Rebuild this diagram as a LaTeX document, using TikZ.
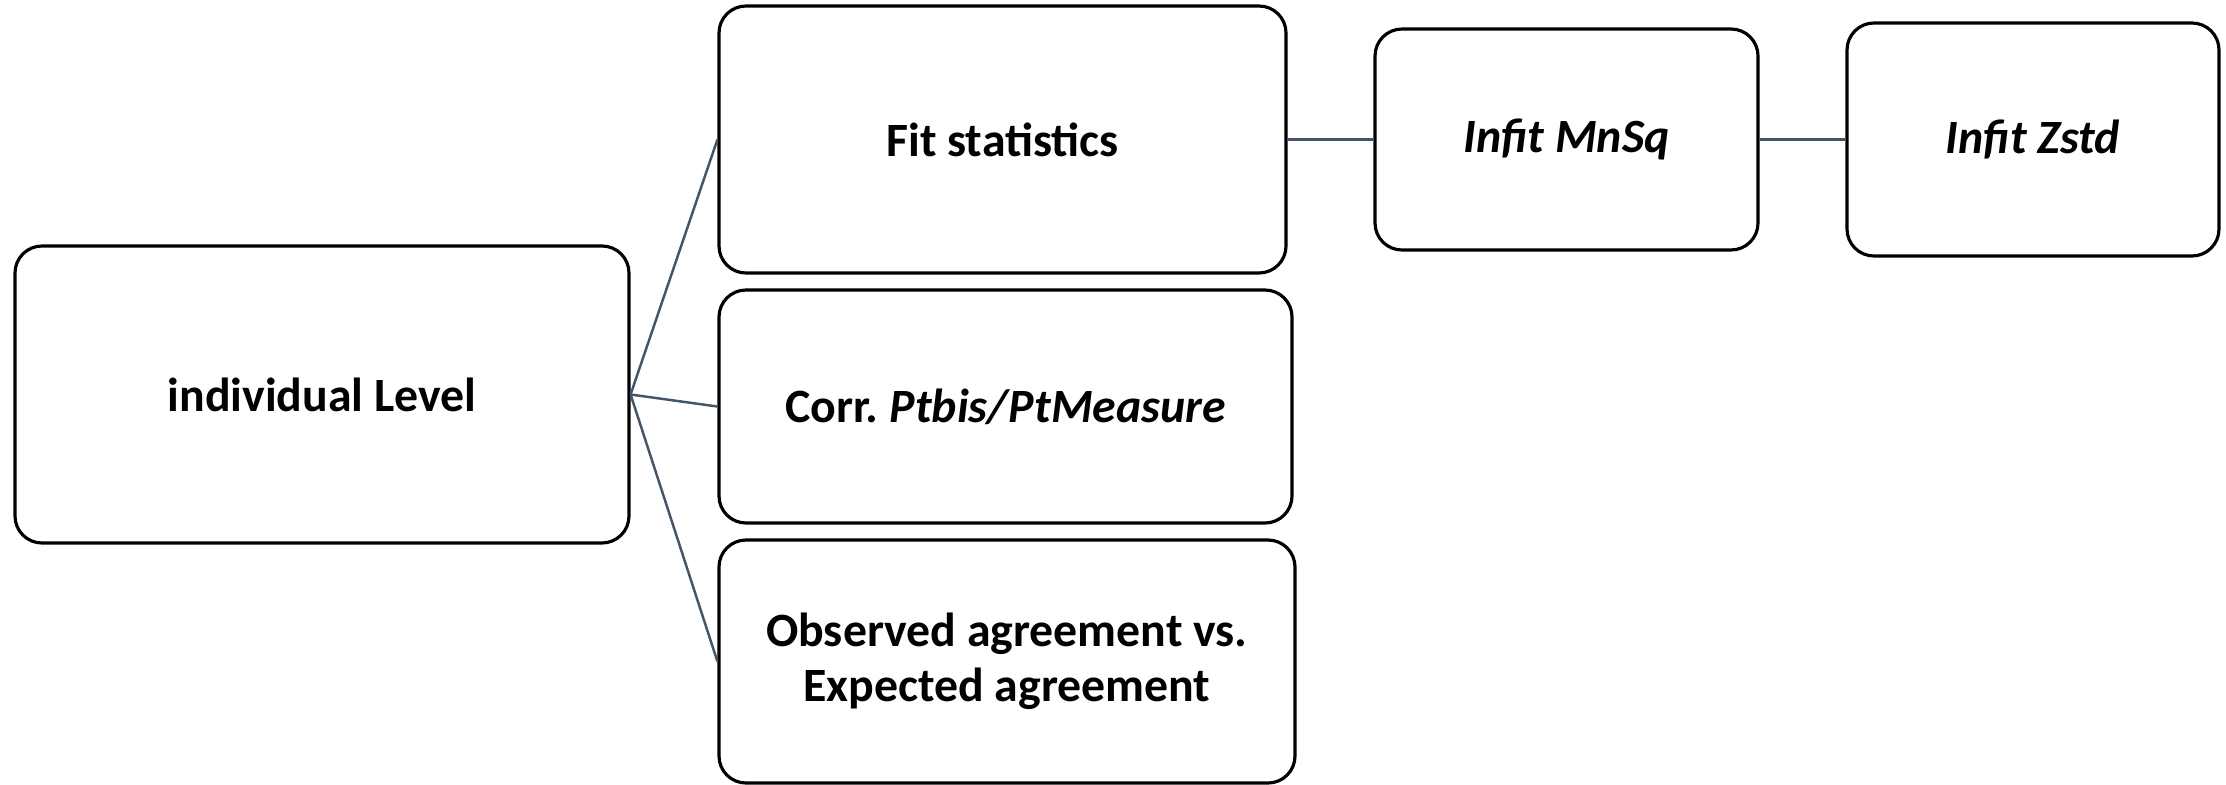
\documentclass[tikz,border=0pt]{standalone}
\usepackage{fontspec}
\setmainfont{Carlito}
\usetikzlibrary{positioning,calc}
\tikzset{font=\fontsize{13.6}{15.6}\selectfont\bfseries}
\definecolor{linkcol}{HTML}{44546A}

\begin{document}
\begin{tikzpicture}
	\useasboundingbox (0, 0) rectangle (22.26, 7.84);
	\begin{scope}
		\tikzstyle{every node}=[align=center, inner sep=1pt]
		\tikzstyle{box}=[draw, line width=0.9pt, rounded corners=0.27cm]
		\tikzstyle{link}=[draw=linkcol, line width=0.7pt]
		\node[box, minimum width=6.14cm, minimum height=2.97cm] (ind) at (3.22, 3.895) {individual Level};

		\node[box, minimum width=5.67cm, minimum height=2.67cm] (fit) at (10.025, 6.445) {Fit statistics};
		\node[box, minimum width=5.73cm, minimum height=2.33cm] (corr) at (10.055, 3.775) {Corr.\ \textit{Ptbis/PtMeasure}};
		\node[box, minimum width=5.76cm, minimum height=2.43cm] (obs) at (10.07, 1.225) {Observed agreement vs.\\Expected agreement};

		\node[box, minimum width=3.83cm, minimum height=2.21cm] (mnsq) at (15.665, 6.445) {\textit{Infit MnSq}};
		\node[box, minimum width=3.72cm, minimum height=2.33cm] (zstd) at (20.33, 6.445) {\textit{Infit Zstd}};

		\draw [link] (ind.east) to (fit.west);
		\draw [link] (ind.east) to (corr.west);
		\draw [link] (ind.east) to (obs.west);
		\draw [link] (fit) to (mnsq);
		\draw [link] (mnsq) to (zstd);
	\end{scope}
\end{tikzpicture}
\end{document}
